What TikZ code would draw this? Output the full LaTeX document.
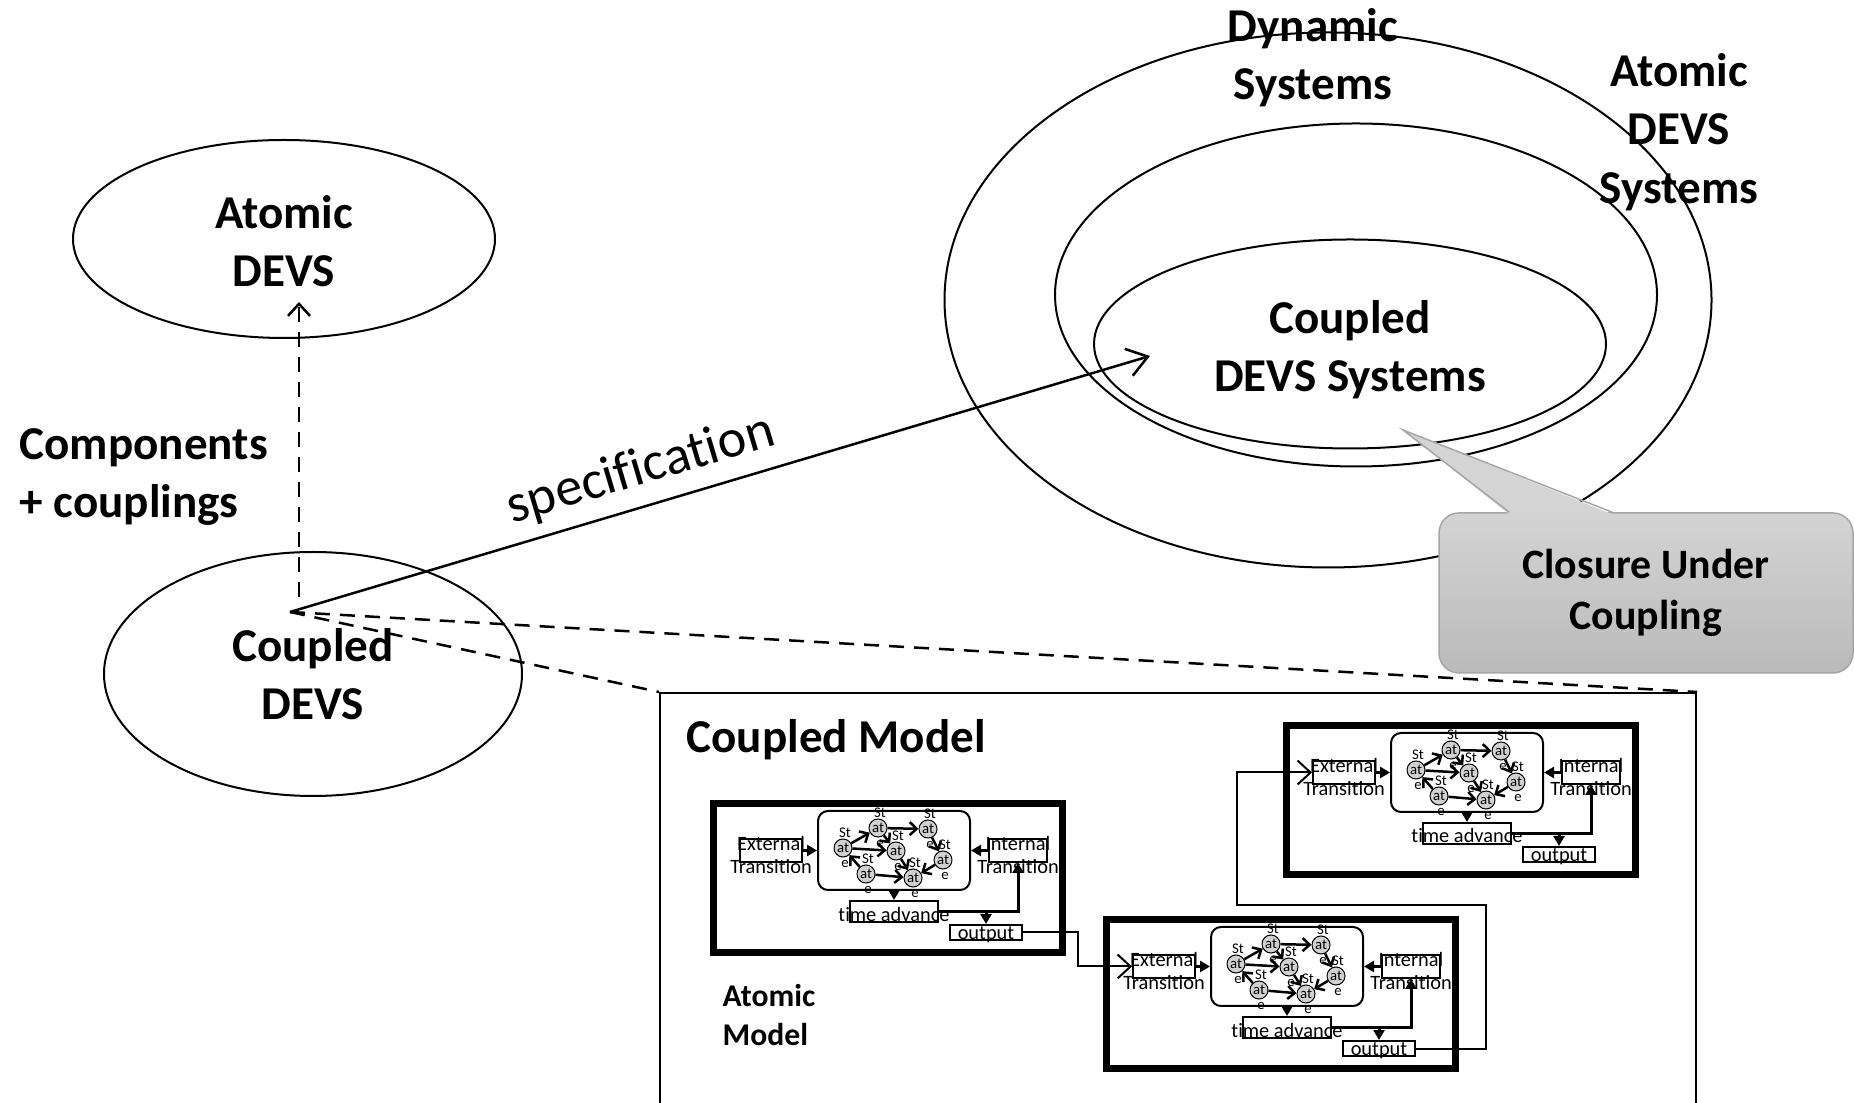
\documentclass[tikz,border=0pt]{standalone}
\usepackage{fontspec}
\setmainfont{Carlito}[Ligatures=CommonOff]
\usetikzlibrary{shapes.geometric,arrows.meta,calc}

\begin{document}
\begin{tikzpicture}[x=0.1mm,y=-0.1mm,
	big/.style={font=\fontsize{13.4}{16.6}\selectfont\bfseries,align=center,inner sep=0pt},
	ell/.style={draw,ellipse,line width=0.2mm,inner sep=0pt},
	dsh/.style={dash pattern=on 1.5mm off 1mm,line width=0.25mm},
	frame/.style={draw,line width=0.7mm,minimum width=34.9mm,minimum height=14.9mm},
	stset/.style={draw,rounded corners=1mm,line width=0.2mm,minimum width=15.2mm,minimum height=7.9mm},
	tbox/.style={draw,line width=0.2mm,minimum height=2.3mm,inner sep=0pt},
	ttxt/.style={font=\fontsize{5.8}{6.4}\selectfont,align=center,inner sep=0pt},
	stt/.style={draw,circle,fill=black!18,line width=0.1mm,minimum size=1.8mm,inner sep=0pt,font=\fontsize{4.2}{4.5}\selectfont},
	tiny/.style={font=\fontsize{4.2}{4.5}\selectfont,inner sep=0pt},
	thk/.style={line width=0.3mm,-{Triangle[length=1mm,width=1.1mm]}},
	sarr/.style={line width=0.25mm,-{Straight Barb[length=0.7mm,width=1.3mm]}},
	link/.style={line width=0.2mm,-{Straight Barb[length=1.3mm,width=2.4mm]}},
	callbox/.style={draw=black!35,line width=0.15mm,rounded corners=2mm,top color=black!17,bottom color=black!27,
		minimum width=41.4mm,minimum height=16mm,align=center,font=\fontsize{11.9}{14.5}\selectfont\bfseries},
	atomic/.pic={
		\node[frame] (-box) at (178,78) {};
		\node[stset] (-st) at (184,50.5) {};
		\node[tbox,minimum width=6.2mm] (-ext) at (61,50.5) {};
		\node[ttxt] (-extt) at (61,55) {External\\Transition};
		\node[tbox,minimum width=5.8mm] (-int) at (308,50.5) {};
		\node[ttxt] (-intt) at (308,55) {Internal\\Transition};
		\node[tbox,minimum width=8.8mm,minimum height=2.1mm] (-ta) at (184,111.5) {};
		\node[ttxt] (-tat) at (184,114) {time advance};
		\node[tbox,minimum width=7.2mm,minimum height=1.5mm] (-out) at (276,132.5) {};
		\node[ttxt] (-outt) at (276,135) {output};
		% states
		\foreach \s/\px/\py in {1/133/48,2/168/28,3/218/29,4/186/51,5/233/60,6/156/74,7/203/78} {
			\node[stt] (-s\s) at (\px,\py) {at};
			\node[tiny] (-u\s) at (\px+2,\py-15) {St};
			\node[tiny] (-d\s) at (\px+2,\py+16) {e};
		}
		\foreach \a/\b in {1/2,2/3,1/4,2/4,4/7,6/1,6/7,3/5,5/7}
			\draw[sarr] (-s\a) -- (-s\b);
		\draw[thk] (-ext.east) -- (-st.west);
		\draw[thk] (-int.west) -- (-st.east);
		\draw[thk] (-st.south) -- (-ta.north);
		\draw[thk] (-ta.east) -| (-int.south);
		\coordinate (-j) at (276,111.5);
		\draw[thk] (-j) -- (-out.north);
	}]
	\useasboundingbox (0,0) rectangle (1855,1103);

	% left side
	\node[ell,minimum width=42.2mm,minimum height=19.8mm] (adevs) at (284,239) {};
	\node[big] (adevst) at (284,241) {Atomic\\DEVS};
	\node[ell,big,minimum width=41.8mm,minimum height=24.4mm] (cdevs) at (313,674) {Coupled\\DEVS};
	\node[big,align=left,anchor=west] (compl) at (19,477) {Components\\+ couplings};
	\coordinate (hub) at (290,612);
	\coordinate (up) at (299,597);
	\coordinate (adevsin) at (299,302);
	\coordinate (cdsin) at (1150,356);
	\draw[dsh,-{Straight Barb[length=1.2mm,width=2.2mm]}] (up) -- (adevsin);

	% coupled model
	\node[draw,line width=0.2mm,minimum width=103.6mm,minimum height=45mm,anchor=north west] (cm) at (659,692) {};
	\draw[dsh] (hub) -- (cm.north west);
	\draw[dsh] (hub) -- (cm.north east);
	\node[big,anchor=west] (cmt) at (686,740) {Coupled Model};
	\node[font=\fontsize{9}{11.1}\selectfont\bfseries,align=left,anchor=west,inner sep=0pt] (amt) at (722,1015) {Atomic\\Model};
	\pic (A) at (710,800) {atomic};
	\pic (B) at (1103,916) {atomic};
	\pic (C) at (1283,722) {atomic};
	\draw[link] (A-out.east) -- ++(55,0) |- (B-ext.west);
	\draw[link] (B-out.east) -| (1486,905) -| (1237,850) |- (C-ext.west);

	% nested sets
	\node[ell,minimum width=76.7mm,minimum height=53.5mm] (dyn) at (1328,300) {};
	\node[ell,minimum width=60.2mm,minimum height=34.3mm] (ads) at (1356,295) {};
	\node[ell,minimum width=51.2mm,minimum height=20.9mm] (cds) at (1350,344) {};
	\node[big] (cdst) at (1350,350) {Coupled\\DEVS Systems};
	\node[big] (dynt) at (1313,58) {Dynamic\\Systems};
	\node[big] (adst) at (1679,132) {Atomic\\DEVS\\Systems};
	\draw[line width=0.25mm,-{Straight Barb[length=2mm,width=2.8mm]}] (hub) -- node[pos=0.42,above=0pt,sloped,font=\fontsize{15.4}{18}\selectfont] (spec) {specification} (cdsin);

	% callout
	\coordinate (ctip) at (1403,430);
	\node[callbox] (cuc) at (1646,593) {Closure Under\\Coupling};
	\fill[black!17] ($(cuc.north west)+(71,2)$) -- (ctip) -- ($(cuc.north west)+(174,2)$) -- cycle;
	\draw[black!35,line width=0.15mm] ($(cuc.north west)+(71,0)$) -- (ctip) -- ($(cuc.north west)+(174,0)$);
\end{tikzpicture}
\end{document}
